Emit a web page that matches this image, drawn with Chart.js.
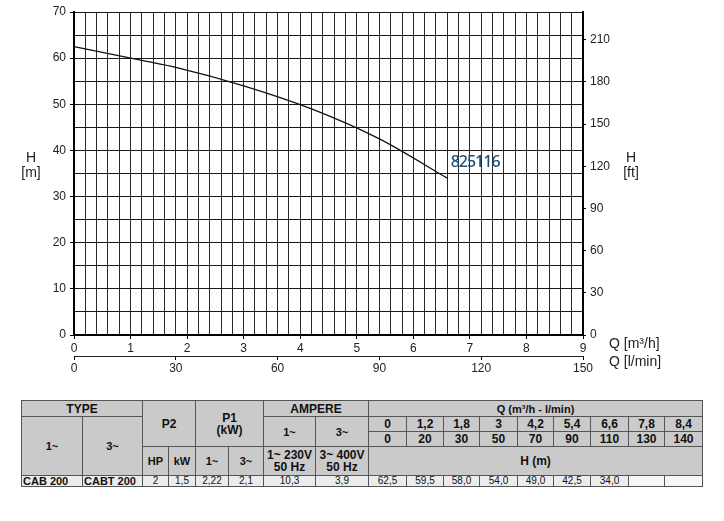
<!DOCTYPE html>
<html>
<head>
<meta charset="utf-8">
<script src="https://cdn.jsdelivr.net/npm/chart.js@4/dist/chart.umd.min.js"></script>
<style>
  body { margin: 0; background: #fff; width: 724px; height: 521px; overflow: hidden; position: relative; font-family: "Liberation Sans", Arial, sans-serif; }
  #wrap { position: absolute; left: 0; top: 0; width: 724px; height: 390px; }
  #perf { position: absolute; left: 21px; top: 400px; border-collapse: collapse; table-layout: fixed; color: #111; }
  #perf td { border: 1px solid #555; text-align: center; padding: 0; font-size: 11px; font-weight: bold; line-height: 12px; background: #cacaca; }
  #perf tr.data td { background: #ececec; font-weight: normal; font-size: 10px; height: 10px; line-height: 10px; }
  #perf tr.data td.name { text-align: left; font-weight: bold; font-size: 11px; padding-left: 1px; }
  #perf tr.data td.empty { background: #f6f6f6; }
</style>
</head>
<body>
<div id="wrap"><canvas id="chart" width="724" height="390"></canvas></div>
<table id="perf"></table>
<script>
// curve data (Q in m3/h, H in m)
var flowM3h = [0, 1.2, 1.8, 3, 4.2, 5.4, 6.6];
var headM = [62.5, 59.5, 58.0, 54.0, 49.0, 42.5, 34.0];
// table columns
var tableQm3h = ["0", "1,2", "1,8", "3", "4,2", "5,4", "6,6", "7,8", "8,4"];
var tableQlmin = ["0", "20", "30", "50", "70", "90", "110", "130", "140"];
var tableH = ["62,5", "59,5", "58,0", "54,0", "49,0", "42,5", "34,0", "", ""];
var modelRow = ["CAB 200", "CABT 200", "2", "1,5", "2,22", "2,1", "10,3", "3,9"];
var curveName = "825116";

var M_TO_FT = 3.28084;
var points = flowM3h.map(function (q, i) { return { x: q, y: headM[i] }; });

function isInt(v) { return Math.abs(v - Math.round(v)) < 1e-6; }
function isTen(v) { return Math.abs(v / 10 - Math.round(v / 10)) < 1e-6; }

var labels = {
  id: 'labels',
  afterDraw: function (chart) {
    var c = chart.ctx;
    c.save();
    c.fillStyle = '#222';
    c.font = '14px "Liberation Sans", Arial, sans-serif';
    c.textAlign = 'center';
    c.textBaseline = 'middle';
    c.fillText('H', 31, 158);
    c.fillText('[m]', 31, 173);
    c.fillText('H', 631, 158);
    c.fillText('[ft]', 631, 173);
    c.textAlign = 'left';
    c.fillText('Q [m\u00b3/h]', 609, 344);
    c.fillText('Q [l/min]', 609, 362);
    var xs = chart.scales.x, ys = chart.scales.y;
    c.fillStyle = '#1d4e73';
    c.font = '500 16px "Noto Sans", sans-serif';
    if ('letterSpacing' in c) c.letterSpacing = '-1px';
    c.fillText(curveName, xs.getPixelForValue(6.66), ys.getPixelForValue(37.4));
    c.restore();
  }
};

var tickFont = { family: '"Liberation Sans", Arial, sans-serif', size: 12 };

new Chart(document.getElementById('chart').getContext('2d'), {
  type: 'scatter',
  data: {
    datasets: [{
      data: points,
      showLine: true,
      borderColor: '#111',
      borderWidth: 1.3,
      pointRadius: 0,
      cubicInterpolationMode: 'monotone',
      fill: false
    }]
  },
  options: {
    responsive: false,
    animation: false,
    layout: { padding: { left: 0, right: 0, top: 12, bottom: 0 } },
    plugins: { legend: { display: false }, tooltip: { enabled: false } },
    scales: {
      x: {
        type: 'linear', position: 'bottom', min: 0, max: 9,
        afterFit: function (s) { s.height = 21; },
        ticks: {
          stepSize: 0.2, autoSkip: false, maxRotation: 0, color: '#222', font: tickFont, padding: 2,
          callback: function (v) { return isInt(v) ? String(Math.round(v)) : ''; }
        },
        grid: {
          color: '#2a2a2a', lineWidth: 1, tickLength: 4,
          tickColor: function (ctx) { return ctx.tick && isInt(ctx.tick.value) ? '#000' : 'rgba(0,0,0,0)'; }
        },
        border: { color: '#000', width: 2 }
      },
      x2: {
        type: 'linear', position: 'bottom', min: 0, max: 150,
        afterFit: function (s) { s.height = 34; },
        ticks: { stepSize: 30, maxRotation: 0, color: '#222', font: tickFont, padding: 1 },
        grid: { drawOnChartArea: false, tickLength: 4, color: '#000' },
        border: { color: '#222', width: 1 }
      },
      y: {
        type: 'linear', position: 'left', min: 0, max: 70,
        afterFit: function (s) { s.width = 74; },
        ticks: {
          stepSize: 5, autoSkip: false, color: '#222', font: tickFont, padding: 4,
          callback: function (v) { return isTen(v) ? String(v) : ''; }
        },
        grid: {
          color: '#1a1a1a', lineWidth: 1, tickLength: 4,
          tickColor: function (ctx) { return ctx.tick && isTen(ctx.tick.value) ? '#000' : 'rgba(0,0,0,0)'; }
        },
        border: { color: '#000', width: 2 }
      },
      y2: {
        type: 'linear', position: 'right', min: 0, max: 70 * M_TO_FT,
        afterFit: function (s) { s.width = 724 - 583; },
        ticks: { stepSize: 30, includeBounds: false, color: '#222', font: tickFont, padding: 4 },
        grid: { drawOnChartArea: false, tickLength: 3, color: '#000' },
        border: { color: '#000', width: 2 }
      }
    }
  },
  plugins: [labels]
});

// performance table
function cell(tr, text, opts) {
  var td = document.createElement('td');
  td.innerHTML = text;
  opts = opts || {};
  if (opts.cs) td.colSpan = opts.cs;
  if (opts.rs) td.rowSpan = opts.rs;
  if (opts.cls) td.className = opts.cls;
  if (opts.h) td.style.height = opts.h + 'px';
  if (opts.fs) td.style.fontSize = opts.fs + 'px';
  tr.appendChild(td);
  return td;
}
var tbl = document.getElementById('perf');
var colW = [61, 60, 26, 27, 33, 35, 52, 53, 38, 37, 36, 38, 36, 37, 38, 36, 38];
var cg = document.createElement('colgroup');
colW.forEach(function (w) { var col = document.createElement('col'); col.style.width = w + 'px'; cg.appendChild(col); });
tbl.appendChild(cg);

var r1 = tbl.insertRow();
cell(r1, 'TYPE', { cs: 2, h: 15, fs: 12 });
cell(r1, 'P2', { cs: 2, rs: 3, fs: 12 });
cell(r1, 'P1<br>(kW)', { cs: 2, rs: 3, fs: 12 });
cell(r1, 'AMPERE', { cs: 2, fs: 12 });
cell(r1, 'Q (m\u00b3/h - l/min)', { cs: 9 });

var r2 = tbl.insertRow();
cell(r2, '1~', { rs: 3 });
cell(r2, '3~', { rs: 3 });
cell(r2, '1~', { rs: 2 });
cell(r2, '3~', { rs: 2 });
tableQm3h.forEach(function (q) { cell(r2, q, { h: 14, fs: 12 }); });

var r3 = tbl.insertRow();
tableQlmin.forEach(function (q) { cell(r3, q, { h: 14, fs: 12 }); });

var r4 = tbl.insertRow();
cell(r4, 'HP', { h: 28 });
cell(r4, 'kW');
cell(r4, '1~');
cell(r4, '3~');
cell(r4, '1~ 230V<br>50 Hz', { fs: 12 });
cell(r4, '3~ 400V<br>50 Hz', { fs: 12 });
cell(r4, 'H (m)', { cs: 9, fs: 12 });

var r5 = tbl.insertRow();
r5.className = 'data';
modelRow.forEach(function (v, i) { cell(r5, v, { cls: i < 2 ? 'name' : '' }); });
tableH.forEach(function (v) { cell(r5, v, { cls: v === '' ? 'empty' : '' }); });
</script>
</body>
</html>
